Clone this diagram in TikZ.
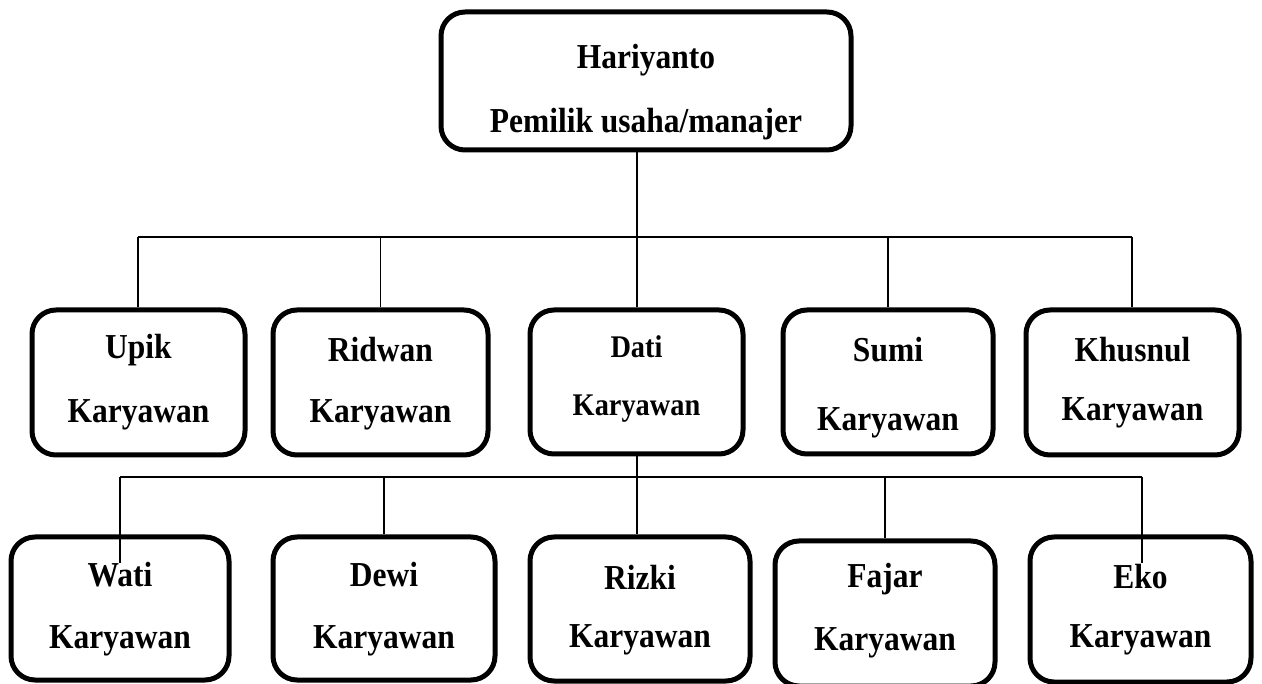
\documentclass[tikz,border=0pt]{standalone}
\usepackage{fontspec}
\setmainfont{Liberation Serif}[FakeStretch=0.9]
\begin{document}
\begin{tikzpicture}[x=1pt,y=-1pt,
  box/.style={draw=black,line width=5pt,rounded corners=24pt,fill=white,inner sep=0pt},
  txt/.style={font=\bfseries\fontsize{35}{38}\selectfont,inner sep=0pt,anchor=center},
  txts/.style={font=\bfseries\fontsize{31.5}{34}\selectfont,inner sep=0pt,anchor=center},
  conn/.style={draw=black,line width=1.5pt}]
\useasboundingbox (0,0) rectangle (1262,684);
% boxes: name, x1, y1, x2, y2
\newcommand{\orgbox}[5]{\node[box,minimum width={#4-#2},minimum height={#5-#3}] (#1) at ({(#2+#4)/2},{(#3+#5)/2}) {};}
\coordinate (j1) at (637,237);
\coordinate (j1l) at (138,237);
\coordinate (j1r) at (1132,237);
\coordinate (j2) at (637,477);
\coordinate (j2l) at (120,477);
\coordinate (j2r) at (1142,477);
\coordinate (watiin) at (120,563);
\coordinate (ekoin) at (1142,563);
\orgbox{top}{441}{12}{851}{150}
\orgbox{upik}{32}{310}{245}{455}
\orgbox{ridwan}{273}{310}{488}{455}
\orgbox{dati}{530}{310}{743}{454}
\orgbox{sumi}{783}{310}{993}{454}
\orgbox{khusnul}{1026}{310}{1239}{455}
\orgbox{wati}{11}{537}{229}{680}
\orgbox{dewi}{273}{537}{495}{680}
\orgbox{rizki}{530}{537}{750}{681}
\orgbox{fajar}{775}{541}{995}{686}
\orgbox{eko}{1030}{537}{1251}{682}
% connectors
\draw[conn] (top.south -| j1) -- (j1);
\draw[conn] (j1l) -- (j1r);
\draw[conn] (j1l) -- (upik.north -| j1l);
\draw[conn] (ridwan.north |- j1) -- (ridwan.north);
\draw[conn] (j1) -- (dati.north -| j1);
\draw[conn] (sumi.north |- j1) -- (sumi.north);
\draw[conn] (j1r) -- (khusnul.north -| j1r);
\draw[conn] (dati.south -| j2) -- (j2);
\draw[conn] (j2l) -- (j2r);
\draw[conn] (j2l) -- (watiin);
\draw[conn] (dewi.north |- j2) -- (dewi.north);
\draw[conn] (j2) -- (rizki.north -| j2);
\draw[conn] (fajar.north |- j2) -- (fajar.north);
\draw[conn] (j2r) -- (ekoin);
% texts
\node[txt] (topA) at (top.center |- 0,60) {Hariyanto};
\node[txt] (topB) at (top.center |- 0,124) {Pemilik usaha/manajer};
\node[txt] (upikA) at (upik.center |- 0,350) {Upik};
\node[txt] (upikB) at (upik.center |- 0,415) {Karyawan};
\node[txt] (ridwanA) at (ridwan.center |- 0,350) {Ridwan};
\node[txt] (ridwanB) at (ridwan.center |- 0,415) {Karyawan};
\node[txts] (datiA) at (dati.center |- 0,347) {Dati};
\node[txts] (datiB) at (dati.center |- 0,409) {Karyawan};
\node[txt] (sumiA) at (sumi.center |- 0,350) {Sumi};
\node[txt] (sumiB) at (sumi.center |- 0,423) {Karyawan};
\node[txt] (khusnulA) at (khusnul.center |- 0,350) {Khusnul};
\node[txt] (khusnulB) at (khusnul.center |- 0,413) {Karyawan};
\node[txt] (watiA) at (wati.center |- 0,575) {Wati};
\node[txt] (watiB) at (wati.center |- 0,641) {Karyawan};
\node[txt] (dewiA) at (dewi.center |- 0,575) {Dewi};
\node[txt] (dewiB) at (dewi.center |- 0,641) {Karyawan};
\node[txt] (rizkiA) at (rizki.center |- 0,577) {Rizki};
\node[txt] (rizkiB) at (rizki.center |- 0,640) {Karyawan};
\node[txt] (fajarA) at (fajar.center |- 0,579) {Fajar};
\node[txt] (fajarB) at (fajar.center |- 0,643) {Karyawan};
\node[txt] (ekoA) at (eko.center |- 0,577) {Eko};
\node[txt] (ekoB) at (eko.center |- 0,640) {Karyawan};
\end{tikzpicture}
\end{document}
